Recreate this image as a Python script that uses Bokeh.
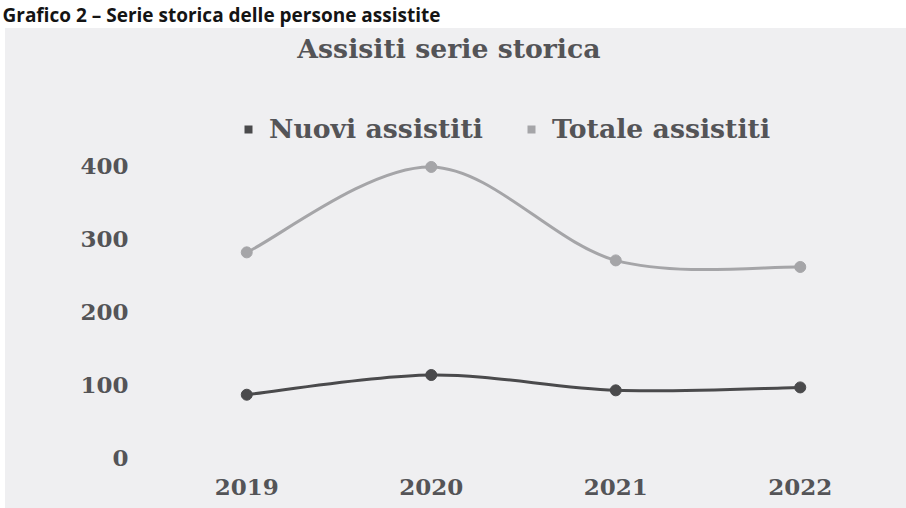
from bokeh.plotting import figure
from bokeh.models import Range1d, FixedTicker, Label, Legend, LegendItem, ColumnDataSource, Spacer
from bokeh.layouts import column, row
from bokeh.embed import file_html
from bokeh.resources import INLINE
from bokeh.core.properties import value

# ---------------- data ----------------
caption = "Grafico 2 – Serie storica delle persone assistite"
chart_title = "Assisiti serie storica"
years = [2019, 2020, 2021, 2022]
nuovi = [86, 113, 92, 96]
totale = [281, 398, 270, 261]
y_ticks = [0, 100, 200, 300, 400]
series_names = ["Nuovi assistiti", "Totale assistiti"]

# ---------------- style ----------------
BG = "#efeff1"
C_NUOVI = "#4a4a4c"
C_TOT = "#a5a5a8"
TXT = "#545457"
FONT = "DejaVu Serif"

W_TOTAL = 906
H_TOP = 28
LEFT_GAP = 5
W = W_TOTAL - LEFT_GAP
H = 508 - H_TOP

FRAME_BOTTOM = 51
FRAME_H = H - FRAME_BOTTOM
PX_PER_UNIT = 0.73
Y_END = FRAME_H / PX_PER_UNIT


def smooth(xs, ys):
    """Bezier control points for an Excel-like smoothed line through the points."""
    n = len(xs)
    out = dict(x0=[], y0=[], x1=[], y1=[], cx0=[], cy0=[], cx1=[], cy1=[])
    for i in range(n - 1):
        im, ip2 = max(i - 1, 0), min(i + 2, n - 1)
        out["x0"].append(xs[i]); out["y0"].append(ys[i])
        out["x1"].append(xs[i + 1]); out["y1"].append(ys[i + 1])
        out["cx0"].append(xs[i] + (xs[i + 1] - xs[im]) / 6)
        out["cy0"].append(ys[i] + (ys[i + 1] - ys[im]) / 6)
        out["cx1"].append(xs[i + 1] - (xs[ip2] - xs[i]) / 6)
        out["cy1"].append(ys[i + 1] - (ys[ip2] - ys[i]) / 6)
    return ColumnDataSource(out)


# ---------------- top strip with caption ----------------
top = figure(width=W_TOTAL, height=H_TOP, x_range=Range1d(0, W_TOTAL), y_range=Range1d(0, H_TOP),
             min_border=0, toolbar_location=None, output_backend="svg")
top.title.visible = False
top.axis.visible = False
top.grid.visible = False
top.outline_line_color = None
top.background_fill_color = "white"
top.border_fill_color = "white"
top.text(x=[2], y=[H_TOP / 2], text=[caption], text_font=value("Open Sans"),
         text_font_style="bold", text_font_size="19px", text_color="#141414",
         text_baseline="middle", text_align="left")

# ---------------- main chart ----------------
p = figure(width=W, height=H, x_range=Range1d(2018.5, 2022.5), y_range=Range1d(0, Y_END),
           min_border_left=149, min_border_right=14, min_border_top=0,
           min_border_bottom=FRAME_BOTTOM,
           toolbar_location=None, output_backend="svg")
p.styles = {"background-color": BG}
p.background_fill_alpha = 0
p.border_fill_alpha = 0
p.outline_line_color = None
p.grid.visible = False

for ax in (p.xaxis[0], p.yaxis[0]):
    ax.axis_line_color = None
    ax.major_tick_line_color = None
    ax.minor_tick_line_color = None
    ax.major_tick_out = 0
    ax.major_tick_in = 0
    ax.minor_tick_out = 0
    ax.major_label_text_font = FONT
    ax.major_label_text_font_style = "bold"
    ax.major_label_text_font_size = "23px"
    ax.major_label_text_color = TXT

p.xaxis.ticker = FixedTicker(ticks=years)
p.xaxis.major_label_overrides = {y: str(y) for y in years}
p.xaxis.major_label_standoff = 21
p.yaxis.ticker = FixedTicker(ticks=y_ticks)
p.yaxis.major_label_standoff = 26

# smoothed lines
p.bezier(x0="x0", y0="y0", x1="x1", y1="y1", cx0="cx0", cy0="cy0", cx1="cx1", cy1="cy1",
         source=smooth(years, totale), line_color=C_TOT, line_width=3)
p.bezier(x0="x0", y0="y0", x1="x1", y1="y1", cx0="cx0", cy0="cy0", cx1="cx1", cy1="cy1",
         source=smooth(years, nuovi), line_color=C_NUOVI, line_width=3)
p.scatter(years, totale, size=11, marker="circle", fill_color=C_TOT, line_color=C_TOT)
p.scatter(years, nuovi, size=11, marker="circle", fill_color=C_NUOVI, line_color=C_NUOVI)

# legend squares (legend glyph only; zero size in the plot)
sq_n = p.scatter(years, nuovi, size=0, marker="square", fill_color=C_NUOVI, line_color=None)
sq_t = p.scatter(years, totale, size=0, marker="square", fill_color=C_TOT, line_color=None)

legend = Legend(items=[LegendItem(label=series_names[0], renderers=[sq_n]),
                       LegendItem(label=series_names[1], renderers=[sq_t])],
                orientation="horizontal", location=(84, 313),
                glyph_width=20, glyph_height=20, label_standoff=11, spacing=38,
                padding=0, margin=0, border_line_color=None, background_fill_alpha=0,
                label_text_font=FONT, label_text_font_style="bold",
                label_text_font_size="26.7px", label_text_color=TXT)
p.add_layout(legend)

# chart title
title_y = (FRAME_H - (47.5 - H_TOP)) / PX_PER_UNIT
p.add_layout(Label(x=2020.096, y=title_y, text=chart_title, text_font=FONT,
                   text_font_style="bold", text_font_size="26.7px", text_color=TXT,
                   text_align="center", text_baseline="middle"))

layout = column(top, row(Spacer(width=LEFT_GAP, height=H), p, spacing=0), spacing=0)
open("out.html", "w").write(file_html(layout, INLINE))
